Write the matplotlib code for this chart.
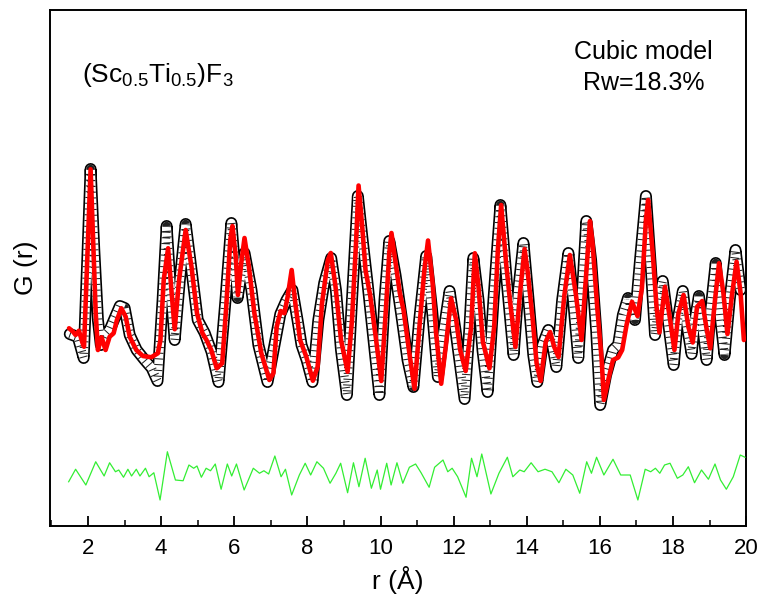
import matplotlib
matplotlib.use("Agg")
import matplotlib.pyplot as plt
import matplotlib.patheffects as pe
from matplotlib.ticker import MultipleLocator

plt.rcParams['font.family'] = ['Liberation Sans', 'DejaVu Sans']
plt.rcParams['mathtext.fontset'] = 'custom'
plt.rcParams['mathtext.rm'] = 'Liberation Sans'

# Observed G(r) (black squares)
r_obs = [1.50, 1.72, 1.88, 1.98, 2.07, 2.17, 2.27, 2.35, 2.46, 2.59, 2.73, 2.87, 3.00, 3.14,
         3.33, 3.55, 3.74, 3.90, 4.04, 4.15, 4.26, 4.37, 4.51, 4.67, 4.83, 5.00, 5.19, 5.38,
         5.57, 5.76, 5.92, 6.09, 6.28, 6.47, 6.66, 6.91, 7.10, 7.26, 7.43, 7.59, 7.73, 7.84,
         7.98, 8.14, 8.30, 8.46, 8.65, 8.78, 8.92, 9.08, 9.22, 9.38, 9.51, 9.65, 9.81, 9.97,
         10.11, 10.24, 10.41, 10.57, 10.74, 10.90, 11.06, 11.25, 11.41, 11.57, 11.73, 11.89,
         12.05, 12.30, 12.43, 12.54, 12.68, 12.79, 12.93, 13.09, 13.28, 13.45, 13.64, 13.77,
         13.91, 14.05, 14.18, 14.29, 14.43, 14.59, 14.70, 14.81, 14.97, 15.14, 15.27, 15.41,
         15.52, 15.63, 15.76, 15.90, 16.01, 16.17, 16.36, 16.50, 16.63, 16.77, 16.96, 17.10,
         17.26, 17.40, 17.51, 17.62, 17.72, 17.86, 18.02, 18.13, 18.27, 18.38, 18.51, 18.60,
         18.71, 18.82, 18.92, 19.03, 19.17, 19.30, 19.41, 19.55, 19.71, 19.85]
g_obs = [-0.04, -0.16, -1.00, 2.92, 6.56, 3.32, 0.52, -0.48, -0.08, 0.12, 0.60, 1.08, 1.00, -0.08,
         -0.68, -1.08, -1.40, -1.92, 1.32, 4.28, 1.72, -0.28, 2.12, 4.36, 2.52, 0.52, 0.00, -0.76,
         -1.96, 1.32, 4.40, 1.40, 3.20, 1.72, -0.48, -1.96, -0.48, 0.76, 1.32, 1.72, 0.52, -0.48,
         -1.08, -1.96, 0.52, 2.00, 3.00, 1.72, -0.68, -2.48, 1.32, 5.48, 3.72, 1.92, -0.28, -2.48,
         1.32, 3.68, 2.32, 0.72, -1.08, -2.16, 0.52, 3.08, 0.92, -1.76, 0.12, 1.68,
         0.12, -2.64, 0.12, 3.00, 1.32, -0.68, -2.36, 1.32, 5.12, 2.12, -0.88, 1.72,
         3.60, 1.32, -0.88, -1.96, -0.48, 0.12, -0.48, -1.36, 1.32, 3.20, 1.32, -1.00,
         1.72, 4.48, 2.92, 0.12, -2.88, -1.68, -0.68, -0.48, 0.72, 1.40, 0.52, 2.92,
         5.48, 2.52, -0.08, 1.32, 2.08, 0.52, -1.28, 0.52, 1.68, 0.32, -0.84, 0.52,
         1.48, 0.12, -1.08, 0.92, 2.80, 0.52, -0.88, 1.32, 3.32, 1.72]

# Calculated G(r) (red line)
r_calc = [1.48, 1.59, 1.66, 1.75, 1.85, 1.89, 2.00, 2.07, 2.14, 2.21, 2.27, 2.37, 2.48, 2.59,
          2.70, 2.79, 2.91, 3.03, 3.14, 3.32, 3.50, 3.73, 3.91, 3.98, 4.07, 4.19, 4.28, 4.37,
          4.49, 4.67, 4.83, 4.98, 5.13, 5.24, 5.37, 5.52, 5.67, 5.78, 5.89, 5.95, 6.04, 6.10,
          6.19, 6.28, 6.40, 6.55, 6.74, 6.96, 7.07, 7.16, 7.27, 7.37, 7.46, 7.57, 7.67, 7.80,
          7.97, 8.15, 8.28, 8.40, 8.56, 8.64, 8.77, 8.92, 9.10, 9.22, 9.33, 9.40, 9.50, 9.59,
          9.72, 9.87, 10.02, 10.15, 10.24, 10.30, 10.42, 10.53, 10.63, 10.79, 10.93, 11.08,
          11.20, 11.30, 11.43, 11.52, 11.66, 11.80, 11.93, 12.07, 12.18, 12.33, 12.48, 12.58,
          12.68, 12.80, 12.98, 13.11, 13.21, 13.30, 13.44, 13.54, 13.69, 13.82, 13.94, 14.02,
          14.16, 14.27, 14.38, 14.52, 14.64, 14.75, 14.87, 15.03, 15.18, 15.34, 15.50, 15.63,
          15.73, 15.80, 15.93, 16.05, 16.11, 16.25, 16.36, 16.50, 16.61, 16.73, 16.88, 17.03,
          17.15, 17.26, 17.32, 17.45, 17.55, 17.63, 17.78, 17.91, 18.04, 18.15, 18.29, 18.42,
          18.54, 18.66, 18.80, 18.91, 19.02, 19.15, 19.26, 19.38, 19.49, 19.62, 19.74, 19.85,
          19.94]
g_calc = [0.19, 0.05, -0.08, 0.09, -0.40, -0.55, 3.72, 6.55, 3.72, 0.80, -0.68, -0.17, -0.68, -0.15,
          -0.01, 0.52, 0.99, 0.65, -0.15, -0.68, -0.92, -0.97, -0.81, -0.28, 2.12, 3.39, 1.72, 0.15,
          2.12, 4.12, 2.65, 0.79, -0.01, -0.28, -0.68, -1.41, -1.21, 1.05, 3.72, 4.28, 3.05, 1.52,
          2.79, 3.80, 2.65, 0.79, -0.81, -1.88, -1.61, 0.25, 0.88, 0.79, 1.45, 2.52, 1.19, -0.28,
          -0.95, -1.91, -1.35, 1.19, 2.92, 3.20, 1.85, -0.28, -1.55, 0.52, 3.59, 5.90, 4.25, 2.52,
          1.48, -0.16, -1.92, 1.00, 3.19, 4.00, 2.72, 1.59, 0.92, -0.81, -2.23, 0.52,
          2.52, 3.70, 1.92, -0.01, -2.03, -0.35, 1.39, 0.52, -0.68, -1.52, 0.25, 3.19,
          1.85, -0.35, -1.41, 0.25, 3.32, 5.12, 2.72, 1.32, -0.56, 1.65, 3.36, 2.52,
          0.59, -1.21, -1.92, -0.35, 0.04, -0.55, -0.96, 1.52, 3.12, 1.59, -0.28, 2.45,
          4.48, 3.59, 0.99, -1.08, -2.68, -1.75, -1.08, -0.98, -0.68, 0.32, 1.25, 0.68,
          1.79, 4.52, 5.32, 3.12, 1.05, 0.02, 1.85, 0.65, -0.68, 0.79, 1.52, 0.25,
          -0.38, 1.05, 1.28, 0.25, -0.61, 1.32, 2.79, 1.59, -0.04, 1.59, 2.85, 1.59,
          -0.28]

# Difference curve (green, offset)
r_diff = [1.47, 1.66, 1.94, 2.21, 2.44, 2.59, 2.75, 2.84, 2.97, 3.09, 3.19, 3.32, 3.42, 3.57,
          3.67, 3.80, 3.97, 4.17, 4.39, 4.60, 4.76, 4.89, 4.98, 5.10, 5.23, 5.35, 5.48, 5.64,
          5.81, 5.93, 6.06, 6.27, 6.52, 6.69, 6.81, 6.94, 7.11, 7.28, 7.40, 7.57, 7.78, 7.94,
          8.09, 8.26, 8.44, 8.62, 8.78, 8.91, 9.10, 9.26, 9.41, 9.58, 9.75, 9.91, 10.00, 10.17,
          10.29, 10.45, 10.61, 10.79, 10.96, 11.11, 11.33, 11.48, 11.71, 11.84, 11.96, 12.11,
          12.34, 12.49, 12.64, 12.77, 13.02, 13.24, 13.47, 13.62, 13.81, 13.93, 14.12, 14.31,
          14.50, 14.69, 14.88, 15.07, 15.26, 15.45, 15.64, 15.77, 15.91, 16.11, 16.36, 16.57,
          16.83, 17.04, 17.24, 17.39, 17.52, 17.64, 17.77, 17.92, 18.12, 18.27, 18.42, 18.59,
          18.78, 18.97, 19.15, 19.30, 19.46, 19.65, 19.84, 19.97]
g_diff = [-5.95, -5.45, -6.08, -5.15, -5.72, -5.19, -5.55, -5.48, -5.77, -5.45, -5.72, -5.45, -5.72, -5.41,
          -5.75, -5.59, -6.68, -4.75, -5.88, -5.91, -5.28, -5.41, -5.32, -5.77, -5.41, -5.51, -5.24, -6.25,
          -5.24, -5.72, -5.24, -6.28, -5.41, -5.61, -5.51, -5.64, -4.92, -5.75, -5.45, -6.48, -5.68, -5.21,
          -5.68, -5.15, -5.41, -6.01, -5.61, -5.21, -6.39, -5.19, -6.15, -5.01, -6.21, -5.48, -6.25, -5.21,
          -6.08, -5.19, -6.01, -5.37, -5.24, -5.59, -6.17, -5.37, -5.08, -5.55, -5.41, -5.75,
          -6.57, -5.01, -5.75, -4.84, -6.44, -5.61, -4.97, -5.75, -5.48, -5.55, -5.19, -5.55,
          -5.45, -5.55, -5.99, -5.45, -5.68, -6.41, -5.15, -5.61, -4.97, -5.68, -5.05, -5.68,
          -5.68, -6.68, -5.45, -5.55, -5.41, -5.61, -5.28, -5.21, -5.81, -5.68, -5.35, -5.99,
          -5.48, -5.85, -5.24, -5.88, -6.25, -5.75, -4.88, -4.97]

x_ticks = [2, 4, 6, 8, 10, 12, 14, 16, 18, 20]

fig = plt.figure(figsize=(7.66, 6.03), dpi=100)
ax = fig.add_axes([0.0653, 0.1277, 0.9087, 0.8557])

# observed data drawn as a hollow band of stacked open squares
ax.plot(r_obs, g_obs, color='white', lw=6.2, solid_joinstyle='round', solid_capstyle='round',
        path_effects=[pe.Stroke(linewidth=8.6, foreground='black'), pe.Normal()], zorder=2)
ax.plot(r_obs, g_obs, color='#222222', lw=6.2, linestyle=(0, (0.12, 0.55)),
        dash_capstyle='butt', solid_joinstyle='round', zorder=2.1)
ax.plot(r_calc, g_calc, color='#ff0000', lw=3.3, solid_joinstyle='round',
        solid_capstyle='round', zorder=3)
ax.plot(r_diff, g_diff, color='#33ee33', lw=0.9, zorder=3)

ax.set_xlim(0.96, 20.0)
ax.set_ylim(-7.72, 12.92)
ax.set_xticks(x_ticks)
ax.xaxis.set_minor_locator(MultipleLocator(1))
ax.set_yticks([])
ax.tick_params(axis='x', which='major', direction='in', length=7, width=1.3,
               labelsize=16, pad=9)
ax.tick_params(axis='x', which='minor', direction='in', length=4, width=1.1)
for s in ax.spines.values():
    s.set_linewidth(1.4)

ax.set_xlabel('r (Å)', fontsize=19, labelpad=5)
ax.set_ylabel('G (r)', fontsize=19, labelpad=9)

ax.text(0.046, 0.874, '(Sc$_{\\mathregular{0.5}}$Ti$_{\\mathregular{0.5}}$)F$_{\\mathregular{3}}$',
        transform=ax.transAxes, fontsize=19, ha='left', va='center')
ax.text(0.853, 0.889, 'Cubic model\nRw=18.3%', transform=ax.transAxes, fontsize=18,
        ha='center', va='center', linespacing=1.35)

fig.savefig('out.png', dpi=100)
